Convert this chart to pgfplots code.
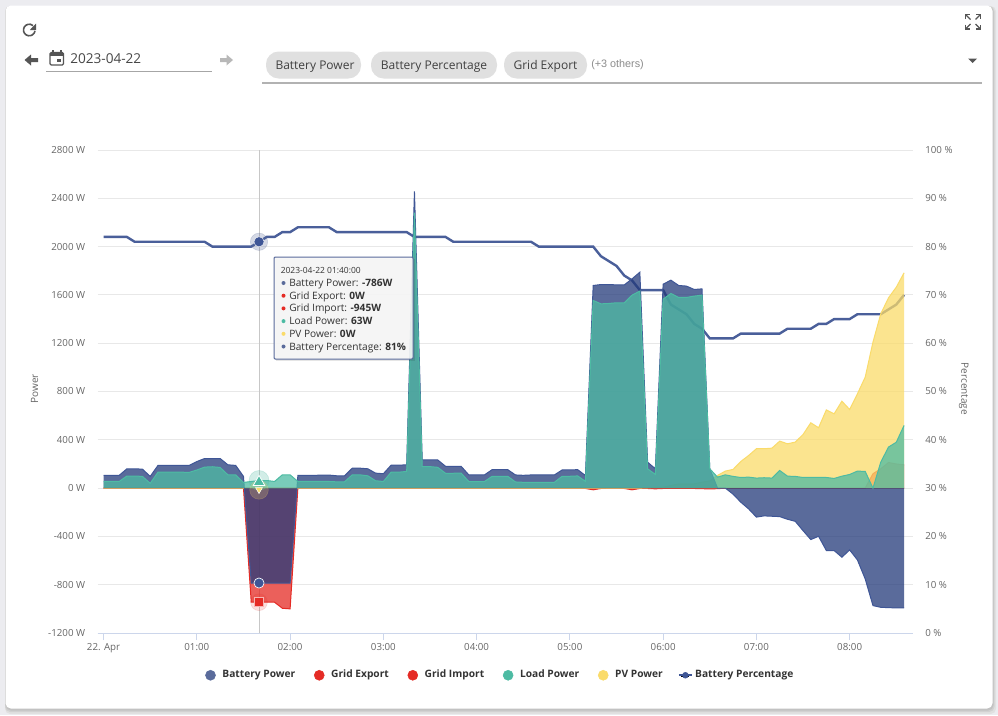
\documentclass[border=0pt]{standalone}
\usepackage{fontspec}
\usepackage{pgfplots}
\usepackage{pgfplotstable}
\pgfplotsset{compat=1.18}
\setmainfont{Open Sans}
\newfontfamily\arialf{Liberation Sans}
\definecolor{batF}{HTML}{233A7A}
\definecolor{batL}{HTML}{3F5696}
\definecolor{batP}{HTML}{4A5F9A}
\definecolor{batS}{HTML}{5A6B9B}
\definecolor{redC}{HTML}{E52B25}
\definecolor{teal1}{HTML}{4DBBA3}
\definecolor{yel}{HTML}{FADB6A}
\definecolor{gridc}{HTML}{E8E8E8}
\definecolor{axc}{HTML}{CCD6EB}
\definecolor{labc}{HTML}{666666}
\definecolor{txt}{HTML}{333333}
\definecolor{chip}{HTML}{E0E0E0}
\definecolor{icon}{HTML}{555555}
\definecolor{pagebg}{HTML}{ECECF0}
\definecolor{ttbg}{HTML}{F7F7F7}
\pgfplotstableread{
i bat exp imp load pv pct
0 105 0 0 55 0 82
1 105 0 0 55 0 82
2 105 0 0 55 0 82
3 160 0 0 100 0 82
4 160 0 0 100 0 81
5 157 0 0 97 0 81
6 97 0 0 40 0 81
7 188 0 0 132 0 81
8 188 0 0 132 0 81
9 188 0 0 132 0 81
10 188 0 0 132 0 81
11 188 0 0 130 0 81
12 220 0 0 150 0 81
13 245 0 0 174 0 81
14 245 0 0 177 0 80
15 245 0 0 171 0 80
16 193 0 0 110 0 80
17 188 0 0 110 0 80
18 97 0 0 47 0 80
19 -786 0 -945 55 0 80
20 -786 0 -945 63 0 81
21 -786 0 -945 63 0 82
22 -786 0 -945 55 0 82
23 -786 0 -995 110 0 83
24 -786 0 -1000 110 0 83
25 105 0 0 55 0 84
26 105 0 0 55 0 84
27 105 0 0 55 0 84
28 108 0 0 55 0 84
29 108 0 0 55 0 84
30 102 0 0 52 0 83
31 102 0 0 52 0 83
32 165 0 0 110 0 83
33 165 0 0 110 0 83
34 160 0 0 102 0 83
35 124 0 0 61 0 83
36 119 0 0 55 0 83
37 190 0 0 132 0 83
38 190 0 0 132 0 83
39 193 0 0 138 0 83
40 2458 0 0 2281 0 82
41 233 0 0 178 0 82
42 233 0 0 178 0 82
43 233 0 0 172 0 82
44 181 0 0 123 0 82
45 181 0 0 123 0 81
46 181 0 0 125 0 81
47 109 0 0 54 0 81
48 109 0 0 54 0 81
49 109 0 0 54 0 81
50 153 0 0 98 0 81
51 153 0 0 98 0 81
52 153 0 0 98 0 81
53 109 0 0 51 0 81
54 106 0 0 48 0 81
55 109 0 0 48 0 81
56 109 0 0 48 0 80
57 109 0 0 48 0 80
58 109 0 0 48 0 80
59 150 0 0 98 0 80
60 150 0 0 98 0 80
61 153 0 0 101 0 80
62 104 0 -3 56 0 80
63 1678 0 -14 1554 0 80
64 1686 0 -3 1526 0 78
65 1686 0 0 1529 0 77
66 1683 0 0 1535 0 76
67 1683 0 -3 1535 0 74
68 1733 0 -14 1598 0 73
69 1788 0 -3 1632 0 71
70 215 0 -3 160 3 71
71 160 0 -6 113 8 71
72 1689 0 -3 1565 8 71
73 1722 0 -2 1612 22 68
74 1678 0 -2 1579 36 67
75 1673 0 -2 1579 36 66
76 1645 0 -3 1590 36 64
77 1650 0 -5 1598 50 63
78 160 0 -6 160 60 61
79 0 0 -5 91 105 61
80 0 0 0 110 141 61
81 -50 0 0 97 155 61
82 -117 0 0 88 221 62
83 -172 0 0 91 270 62
84 -240 0 0 83 326 62
85 -230 0 0 86 326 62
86 -233 0 0 83 331 62
87 -236 0 0 146 389 62
88 -258 0 0 99 367 63
89 -275 0 0 97 381 63
90 -352 0 0 88 444 63
91 -426 0 0 88 541 63
92 -399 0 0 88 500 64
93 -517 0 0 88 648 64
94 -517 0 0 80 615 65
95 -572 0 0 99 720 65
96 -512 0 0 113 651 65
97 -595 0 0 141 781 66
98 -752 0 0 138 919 66
99 -973 119 0 0 1209 66
100 -987 160 0 215 1443 66
101 -990 212 0 340 1576 67
102 -992 200 0 380 1664 68
103 -992 193 0 519 1783 70
}\datatable
\pgfplotsset{
  base/.style={
    scale only axis, width=611.25pt, height=362.25pt,
    at={(73.2pt,-474.75pt)}, anchor=south west,
    xmin=-0.77, xmax=104.1,
    ticklabel style={text=labc, font=\fontsize{7.3}{9}\selectfont},
    label style={text=labc, font=\fontsize{7.5}{9}\selectfont},
  },
  legcircle/.style={legend image code/.code={\fill[#1] (0pt,0pt) circle (3.75pt);}},
  area/.style={forget plot, draw=none, fill=#1, fill opacity=0.75},
  top/.style={forget plot, draw=#1, line width=0.75pt, no marks},
}
\begin{document}
\begin{tikzpicture}[x=0.75pt,y=-0.75pt]
% page and card
\fill[pagebg] (0,0) rectangle (998,715);
\fill[black!12,rounded corners=4pt] (5,6) rectangle (996,714);
\fill[black!18,rounded corners=4pt] (5,6) rectangle (994.5,712);
\fill[black!24,rounded corners=4pt] (5.5,6) rectangle (993.5,710.5);
\fill[white,rounded corners=4pt] (5.5,5.5) rectangle (992.5,708.5);
% reload
\draw[icon,line width=1.2pt] (35,31) arc[start angle=10,end angle=310,radius=5.8];
\fill[icon] (36,23.5) -- (36,30) -- (29.8,30) -- cycle;
% arrows
\fill[icon] (24.5,60) -- (31,54.5) -- (31,58) -- (38,58) -- (38,62) -- (31,62) -- (31,65.5) -- cycle;
\fill[black!28] (233,60) -- (226.5,54.5) -- (226.5,58) -- (220,58) -- (220,62) -- (226.5,62) -- (226.5,65.5) -- cycle;
% calendar
\draw[icon,line width=0.9pt,rounded corners=1pt] (50,52.5) rectangle (63.5,65);
\fill[icon] (50,52.5) rectangle (63.5,55.5);
\fill[icon] (52,50) rectangle (53.6,53);
\fill[icon] (60,50) rectangle (61.6,53);
\fill[icon] (57,58.5) rectangle (61,62);
\node[anchor=base west,inner sep=0pt,text=black!72,font=\fontsize{10.2}{12}\selectfont] at (70,63) {2023-04-22};
\draw[black!35,line width=0.9pt] (46,71.5) -- (211.5,71.5);
% chips
\fill[chip,rounded corners=9.5pt] (266,51.5) rectangle (361,78.5);
\fill[chip,rounded corners=9.5pt] (371,51.5) rectangle (497,78.5);
\fill[chip,rounded corners=9.5pt] (504,51.5) rectangle (587,78.5);
\node[anchor=base,inner sep=0pt,text=black!75,font=\fontsize{9}{12}\selectfont] at (315,69.3) {Battery Power};
\node[anchor=base,inner sep=0pt,text=black!75,font=\fontsize{9}{12}\selectfont] at (434,69.3) {Battery Percentage};
\node[anchor=base,inner sep=0pt,text=black!75,font=\fontsize{9}{12}\selectfont] at (545.5,69.3) {Grid Export};
\node[anchor=west,inner sep=0pt,text=black!45,font=\arialf\fontsize{8.1}{10}\selectfont] at (591,64.5) {(+3 others)};
\draw[black!30,line width=0.9pt] (262,83) -- (982,83);
\fill[icon] (968,58.5) -- (977,58.5) -- (972.5,63) -- cycle;
% fullscreen icon
\draw[icon,line width=0.9pt] (965.5,19) -- (965.5,14.5) -- (970,14.5);
\draw[icon,line width=0.9pt] (965.5,14.5) -- (970.5,19.5);
\draw[icon,line width=0.9pt] (976,14.5) -- (980.5,14.5) -- (980.5,19);
\draw[icon,line width=0.9pt] (980.5,14.5) -- (975.5,19.5);
\draw[icon,line width=0.9pt] (965.5,24.5) -- (965.5,29) -- (970,29);
\draw[icon,line width=0.9pt] (965.5,29) -- (970.5,24);
\draw[icon,line width=0.9pt] (976,29) -- (980.5,29) -- (980.5,24.5);
\draw[icon,line width=0.9pt] (980.5,29) -- (975.5,24);
%
% percentage axis (under the areas)
\begin{axis}[base,
  axis x line*=bottom, axis y line*=right,
  x axis line style={draw=none}, y axis line style={draw=none},
  xtick=\empty,
  ymin=0, ymax=100, ytick={0,10,...,100},
  yticklabels={0 \%,10 \%,20 \%,30 \%,40 \%,50 \%,60 \%,70 \%,80 \%,90 \%,100 \%},
  yticklabel style={anchor=west, xshift=9.3pt, inner sep=0pt},
  major tick length=0pt,
  ymajorgrids, grid style={gridc, line width=0.75pt},
  ylabel={Percentage},
  ylabel style={at={(axis description cs:1.0626,0.5055)}, anchor=center, rotate=180},
]
\addplot[forget plot, black!22, line width=0.75pt] coordinates {(20,0)(20,100)};
\addplot[forget plot, batP, line width=1.8pt, no marks] table[x=i,y=pct] {\datatable};
\addplot[forget plot, only marks, mark=*, mark size=6.5pt, batS, opacity=0.25] coordinates {(20,81)};
\addplot[forget plot, only marks, mark=*, mark size=3.8pt, draw=white, fill=batL, line width=0.3pt] coordinates {(20,81)};
\end{axis}
% power axis
\begin{axis}[base,
  axis x line*=bottom, axis y line*=left,
  y axis line style={draw=none},
  x axis line style={draw=axc, line width=0.75pt, -},
  xtick={0,12,...,96},
  xticklabels={22. Apr,01:00,02:00,03:00,04:00,05:00,06:00,07:00,08:00},
  x tick style={draw=axc, line width=0.75pt},
  xticklabel style={inner sep=0pt, yshift=-2.2pt},
  y tick style={draw=none},
  tick align=outside,
  major tick length=5.25pt,
  ymin=-1200, ymax=2800, ytick={-1200,-800,...,2800},
  yticklabels={-1200 W,-800 W,-400 W,0 W,400 W,800 W,1200 W,1600 W,2000 W,2400 W,2800 W},
  yticklabel style={anchor=east, xshift=-3.9pt, inner sep=0pt},
  ylabel={Power},
  ylabel style={at={(axis description cs:-0.0773,0.5055)}, anchor=center},
  legend style={at={(0.4945,-0.0875)}, anchor=center, draw=none, fill=none,
    legend columns=6, font=\bfseries\fontsize{7.65}{10}\selectfont, text=txt,
    nodes={text height=5.8pt, text depth=1.8pt},
    /tikz/every even column/.append style={column sep=12pt},
    /tikz/every odd column/.append style={column sep=3pt},
    inner sep=0pt, outer sep=0pt},
]
\addplot[area=redC] table[x=i,y=exp] {\datatable} \closedcycle;
\addplot[top=redC] table[x=i,y=exp] {\datatable};
\addplot[area=redC] table[x=i,y=imp] {\datatable} \closedcycle;
\addplot[top=redC] table[x=i,y=imp] {\datatable};
\addplot[area=yel] table[x=i,y=pv] {\datatable} \closedcycle;
\addplot[top=yel] table[x=i,y=pv] {\datatable};
\addplot[area=batF] table[x=i,y=bat] {\datatable} \closedcycle;
\addplot[top=batL] table[x=i,y=bat] {\datatable};
\addplot[area=teal1] table[x=i,y=load] {\datatable} \closedcycle;
\addplot[top=teal1] table[x=i,y=load] {\datatable};
% hover markers
\addplot[forget plot, only marks, mark=*, mark size=7.5pt, teal1, opacity=0.25] coordinates {(20,63)};
\addplot[forget plot, only marks, mark=*, mark size=7pt, yel, opacity=0.22] coordinates {(20,-15)};
\addplot[forget plot, only marks, mark=*, mark size=6.3pt, redC, opacity=0.15] coordinates {(20,-945)};
\addplot[forget plot, only marks, mark=triangle*, mark size=3pt, mark options={rotate=180}, draw=white, fill=yel, line width=0.4pt] coordinates {(20,-12)};
\addplot[forget plot, only marks, mark=triangle*, mark size=5pt, draw=white, fill=teal1, line width=0.6pt] coordinates {(20,50)};
\addplot[forget plot, only marks, mark=*, mark size=3.8pt, draw=white, fill=batL, line width=0.5pt] coordinates {(20,-786)};
\addplot[forget plot, only marks, mark=square*, mark size=3.4pt, draw=white!65!redC, fill=redC, line width=0.6pt] coordinates {(20,-945)};
% legend
\addlegendimage{legcircle=batS}\addlegendentry{Battery Power}
\addlegendimage{legcircle=redC}\addlegendentry{Grid Export}
\addlegendimage{legcircle=redC}\addlegendentry{Grid Import}
\addlegendimage{legcircle=teal1}\addlegendentry{Load Power}
\addlegendimage{legcircle=yel}\addlegendentry{PV Power}
\addlegendimage{legend image code/.code={\useasboundingbox (-4.9pt,-1pt) rectangle (0pt,1pt); \draw[batL,line width=1.2pt] (-7pt,0pt) -- (2.8pt,0pt); \fill[batL] (-2.1pt,0pt) circle (2.2pt);}}\addlegendentry{Battery Percentage}
\end{axis}
% tooltip
\fill[black,opacity=0.1] (275.5,258.5) rectangle (415,361);
\draw[batS,fill=ttbg,fill opacity=0.9,line width=0.75pt,rounded corners=0.8pt] (274,257) rectangle (413,359);
\node[anchor=base west,inner sep=0pt,text=txt,font=\fontsize{6.35}{8}\selectfont] at (280.5,273) {2023-04-22 01:40:00};
\newcommand{\ttrow}[4]{%
  \fill[#2] (283.5,#1-3.5) circle (2);
  \node[anchor=base west,inner sep=0pt,text=txt,font=\fontsize{7.6}{9}\selectfont] at (289,#1) {#3: \textbf{#4}};}
\ttrow{286.5}{batS}{Battery Power}{-786W}
\ttrow{299.2}{redC}{Grid Export}{0W}
\ttrow{311.9}{redC}{Grid Import}{-945W}
\ttrow{324.6}{teal1}{Load Power}{63W}
\ttrow{337.3}{yel}{PV Power}{0W}
\ttrow{350}{batS}{Battery Percentage}{81\%}
\end{tikzpicture}
\end{document}
